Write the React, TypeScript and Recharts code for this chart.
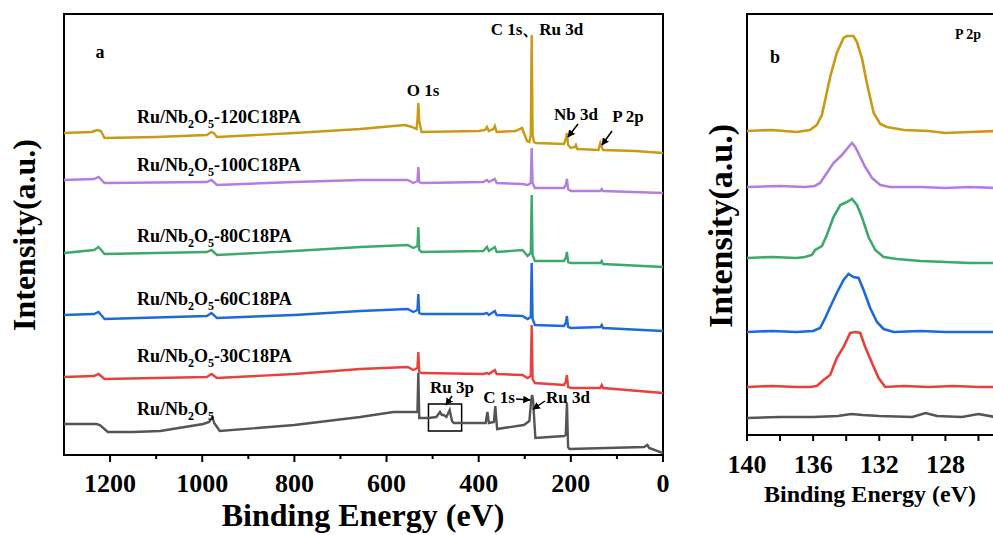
import { LineChart, Line, XAxis, YAxis, ReferenceArea } from 'recharts'

// survey spectra (binding energy eV, offset intensity a.u.)
const survey120 = [
  [1300, 322], [1240, 323], [1228, 325], [1220, 324], [1212, 317], [1100, 318], [990, 320], [980, 323], [975, 322],
  [968, 318], [800, 322], [657, 326], [560, 330], [545, 328], [535, 326], [533, 334], [531, 352], [529, 334], [524, 323],
  [400, 324], [386, 325], [382, 328], [378, 324], [368, 326], [365, 329], [361, 323], [320, 324], [306, 327], [295, 314],
  [290, 313], [287, 320], [285, 420], [283, 320], [280, 313], [276, 312], [215, 311], [211, 316], [208.5, 322], [206, 310],
  [200, 307], [191, 308], [189, 310], [186, 306], [140, 305], [136, 312], [133, 308], [130, 305], [60, 304], [0, 302],
]
const survey100 = [
  [1300, 275], [1235, 276], [1225, 278], [1212, 272], [990, 273], [980, 275], [968, 270], [800, 273], [657, 275],
  [554, 275], [542, 272], [533, 274], [531, 288], [529, 273], [524, 272], [390, 273], [382, 275], [378, 273], [365, 276],
  [361, 272], [305, 271], [294, 270], [287, 272], [285, 307], [283, 272], [278, 267], [215, 267], [211, 270], [208.5, 276],
  [206, 266], [200, 264], [136, 264], [133, 266], [130, 264], [0, 262],
]
const survey80 = [
  [1300, 202], [1235, 205], [1225, 208], [1212, 201], [990, 203], [980, 205], [968, 200], [800, 204], [657, 208],
  [554, 210], [542, 207], [533, 209], [531, 228], [529, 205], [524, 203], [390, 204], [382, 208], [378, 204], [365, 208],
  [361, 203], [305, 205], [294, 199], [287, 202], [285, 260], [283, 200], [278, 194], [215, 194], [211, 197], [208.5, 203],
  [206, 193], [200, 192], [136, 192], [133, 194], [130, 191], [0, 188],
]
const survey60 = [
  [1300, 140], [1235, 141], [1225, 143], [1212, 136], [990, 139], [980, 142], [968, 137], [800, 140], [657, 144],
  [554, 146], [542, 143], [533, 145], [531, 161], [529, 142], [524, 141], [390, 141], [382, 142], [378, 140], [365, 144],
  [361, 140], [305, 139], [294, 136], [287, 138], [285, 192], [283, 136], [278, 130], [215, 129], [211, 132], [208.5, 139],
  [206, 128], [200, 127], [136, 128], [133, 130], [130, 127], [0, 124],
]
const survey30 = [
  [1300, 78], [1235, 79], [1225, 81], [1212, 76], [990, 78], [980, 81], [968, 77], [800, 81], [657, 86],
  [554, 88], [542, 85], [533, 87], [531, 103], [529, 83], [524, 82], [390, 81], [382, 82], [378, 81], [365, 85],
  [361, 81], [305, 80], [294, 77], [287, 79], [285, 130], [283, 76], [278, 72], [215, 70], [211, 73], [208.5, 80],
  [206, 68], [200, 67], [136, 67], [133, 70], [130, 67], [0, 62],
]
const survey0 = [
  [1300, 31], [1230, 31], [1222, 30], [1205, 23], [1150, 23], [1091, 24], [998, 31], [985, 33], [978, 38], [974, 32],
  [962, 24], [800, 30], [657, 38], [585, 43], [541, 43], [533, 43], [531, 82], [529, 37], [509, 37], [492, 38], [484, 43],
  [480, 40], [476, 40], [470, 38], [463, 45], [458, 34], [454, 32], [385, 32], [381, 43], [378, 32], [367, 33],
  [364, 49], [360, 26], [302, 30], [290, 34], [286, 55], [284, 60], [282, 55], [277, 17], [215, 19], [211, 20],
  [208.5, 52], [206, 8], [203, 6], [41, 8], [34, 10], [30, 7], [0, 2],
]

// P 2p high-resolution spectra
const p2p120 = [
  [140, 304], [138.5, 305], [137, 303], [136.2, 305], [135.78, 310], [135.47, 320], [134.97, 358], [134.57, 382],
  [134.16, 397], [133.96, 399], [133.56, 399], [133.35, 393], [133.05, 377], [132.75, 352], [132.34, 322],
  [131.94, 311], [131.54, 308], [130.5, 305], [129, 304], [128, 302], [126.5, 303], [125, 304],
]
const p2p100 = [
  [140, 248], [138, 249], [136.5, 248], [135.9, 249], [135.58, 252], [135.17, 262], [134.77, 272], [134.26, 280],
  [133.86, 288], [133.65, 292], [133.45, 288], [133.15, 278], [132.85, 268], [132.44, 257], [131.94, 250],
  [131.33, 248], [129.5, 248], [128, 247], [126.5, 248], [125, 247],
]
const p2p80 = [
  [140, 177], [138.5, 178], [137, 177], [136.5, 178], [136.08, 180], [135.88, 185], [135.47, 189], [135.17, 200],
  [134.77, 218], [134.36, 230], [133.96, 233], [133.65, 236], [133.35, 230], [133.05, 218], [132.65, 198],
  [132.24, 185], [131.74, 178], [130.93, 176], [129.5, 174], [128, 173], [126.5, 172], [125, 172],
]
const p2p60 = [
  [140, 103], [138.5, 104], [137, 103], [136, 104], [135.58, 107], [135.27, 117], [134.97, 128], [134.57, 142],
  [134.16, 155], [133.86, 161], [133.56, 158], [133.25, 157], [132.95, 145], [132.55, 127], [132.14, 113],
  [131.74, 106], [131.13, 103], [129.5, 104], [128, 103], [126.5, 103], [125, 103],
]
const p2p30 = [
  [140, 48], [138.5, 49], [137, 48], [136.2, 48], [135.78, 49], [135.37, 55], [134.97, 60], [134.57, 77],
  [134.16, 88], [133.76, 102], [133.45, 103], [133.15, 102], [132.85, 88], [132.44, 72], [132.04, 57],
  [131.64, 48], [130.5, 49], [129, 48], [127.5, 49], [126, 48], [125, 48],
]
const p2p0 = [
  [140, 17], [138, 18], [136, 18], [134.5, 19], [133.7, 21], [133, 20], [132, 19], [130, 18], [129.2, 22],
  [128.5, 19], [127, 18], [126, 21], [125, 18],
]

const sampleNames = ['-120C18PA', '-100C18PA', '-80C18PA', '-60C18PA', '-30C18PA', '']
const colors = ['#C99A12', '#B37FDF', '#3DA96B', '#1F6BD6', '#E8413D', '#555555']
const surveyTicks = [1200, 1100, 1000, 900, 800, 700, 600, 500, 400, 300, 200, 100, 0]
const p2pTicks = [140, 138, 136, 134, 132, 130, 128, 126]

const surveySeries = [survey120, survey100, survey80, survey60, survey30, survey0]
const p2pSeries = [p2p120, p2p100, p2p80, p2p60, p2p30, p2p0]

const toPts = (arr: number[][]) => arr.map(([x, y]) => ({ x, y }))

const serif = "'Liberation Serif', 'Times New Roman', serif"

function SurveyTick({ x, y, payload }: any) {
  const major = payload.value % 200 === 0
  return (
    <g>
      <line x1={x} x2={x} y1={y} y2={y + (major ? 7 : 4)} stroke="#000" strokeWidth={2} />
      {major && (
        <text x={x} y={y + 37} textAnchor="middle" fontFamily={serif} fontWeight="bold" fontSize={26} fill="#000">
          {payload.value}
        </text>
      )}
    </g>
  )
}

function P2pTick({ x, y, payload }: any) {
  const major = payload.value % 4 === 0
  return (
    <g>
      <line x1={x} x2={x} y1={y} y2={y + 6} stroke="#000" strokeWidth={2} />
      {major && (
        <text x={x} y={y + 38} textAnchor="middle" fontFamily={serif} fontWeight="bold" fontSize={26} fill="#000">
          {payload.value}
        </text>
      )}
    </g>
  )
}

const labelY = [123, 171, 242, 305, 362, 415]

function Arrow({ x1, y1, x2, y2 }: { x1: number; y1: number; x2: number; y2: number }) {
  return <line x1={x1} y1={y1} x2={x2} y2={y2} stroke="#000" strokeWidth={1.5} markerEnd="url(#ah)" />
}

export default function App() {
  const bold = { fontFamily: serif, fontWeight: 'bold' as const, fill: '#000' }
  return (
    <div style={{ position: 'fixed', left: 0, top: 0, width: 993, height: 535, overflow: 'hidden', background: '#fff' }}>
      <div style={{ position: 'absolute', left: 0, top: 0 }}>
        <LineChart width={670} height={535} margin={{ top: 14, right: 7, bottom: 40, left: 64 }}>
          <XAxis
            type="number"
            dataKey="x"
            domain={[0, 1300]}
            reversed
            allowDataOverflow
            ticks={surveyTicks}
            interval={0}
            tickLine={false}
            tickSize={0}
            tickMargin={0}
            tick={<SurveyTick />}
            axisLine={{ stroke: '#000', strokeWidth: 2 }}
            height={40}
          />
          <YAxis type="number" dataKey="y" domain={[0, 441]} hide allowDataOverflow />
          {surveySeries.map((s, i) => (
            <Line
              key={i}
              data={toPts(s)}
              dataKey="y"
              type="linear"
              stroke={colors[i]}
              strokeWidth={2.4}
              dot={false}
              isAnimationActive={false}
            />
          ))}
          <ReferenceArea x1={509} x2={437} y1={24} y2={51} fill="none" stroke="#000" strokeWidth={1.5} />
          <ReferenceArea x1={1300} x2={0} y1={0} y2={441} fill="none" stroke="#000" strokeWidth={2} />
        </LineChart>
      </div>
      <div style={{ position: 'absolute', left: 690, top: 0 }}>
        <LineChart width={310} height={535} margin={{ top: 14, right: 5, bottom: 50, left: 57 }}>
          <XAxis
            type="number"
            dataKey="x"
            domain={[125, 140]}
            reversed
            allowDataOverflow
            ticks={p2pTicks}
            interval={0}
            tickLine={false}
            tickSize={0}
            tickMargin={0}
            tick={<P2pTick />}
            axisLine={{ stroke: '#000', strokeWidth: 2 }}
            height={50}
          />
          <YAxis type="number" dataKey="y" domain={[0, 421]} hide allowDataOverflow />
          {p2pSeries.map((s, i) => (
            <Line
              key={i}
              data={toPts(s)}
              dataKey="y"
              type="linear"
              stroke={colors[i]}
              strokeWidth={2.6}
              dot={false}
              isAnimationActive={false}
            />
          ))}
          <ReferenceArea x1={140} x2={125} y1={0} y2={421} fill="none" stroke="#000" strokeWidth={2} />
        </LineChart>
      </div>
      <svg width={993} height={535} style={{ position: 'absolute', left: 0, top: 0, pointerEvents: 'none' }}>
        <defs>
          <marker id="ah" viewBox="0 0 10 10" refX="9" refY="5" markerWidth="5" markerHeight="5" orient="auto">
            <path d="M0,0 L10,5 L0,10 z" fill="#000" />
          </marker>
        </defs>
        <text x={100} y={58} fontSize={18} textAnchor="middle" {...bold}>a</text>
        <text x={423} y={96} fontSize={17} textAnchor="middle" {...bold}>O 1s</text>
        <text x={537} y={35} fontSize={17} textAnchor="middle" {...bold}>C 1s、Ru 3d</text>
        <text x={576} y={120} fontSize={17} textAnchor="middle" {...bold}>Nb 3d</text>
        <text x={628} y={122} fontSize={17} textAnchor="middle" {...bold}>P 2p</text>
        <Arrow x1={578} y1={124} x2={568} y2={137} />
        <Arrow x1={612} y1={131} x2={602} y2={145} />
        {sampleNames.map((n, i) => (
          <text key={i} x={137} y={labelY[i]} fontSize={18} {...bold}>
            <tspan>Ru/Nb</tspan>
            <tspan fontSize={12} dy={5}>2</tspan>
            <tspan dy={-5}>O</tspan>
            <tspan fontSize={12} dy={5}>5</tspan>
            <tspan dy={-5}>{n}</tspan>
          </text>
        ))}
        <text x={452} y={393} fontSize={17} textAnchor="middle" {...bold}>Ru 3p</text>
        <Arrow x1={452} y1={396} x2={446} y2={405} />
        <text x={499} y={403} fontSize={17} textAnchor="middle" {...bold}>C 1s</text>
        <Arrow x1={516} y1={399} x2={530} y2={400} />
        <text x={568} y={403} fontSize={17} textAnchor="middle" {...bold}>Ru 3d</text>
        <Arrow x1={545} y1={401} x2={533} y2={409} />
        <text x={363} y={526} fontSize={32} textAnchor="middle" {...bold}>Binding Energy (eV)</text>
        <text x={35} y={235} fontSize={32} textAnchor="middle" transform="rotate(-90 35 235)" {...bold}>Intensity(a.u.)</text>

        <text x={775} y={63} fontSize={18} textAnchor="middle" {...bold}>b</text>
        <text x={968} y={39} fontSize={14} textAnchor="middle" {...bold}>P 2p</text>
        <text x={870} y={502} fontSize={24} textAnchor="middle" {...bold}>Binding Energy (eV)</text>
        <text x={732} y={226} fontSize={34} textAnchor="middle" transform="rotate(-90 732 226)" {...bold}>Intensity(a.u.)</text>
      </svg>
    </div>
  )
}
